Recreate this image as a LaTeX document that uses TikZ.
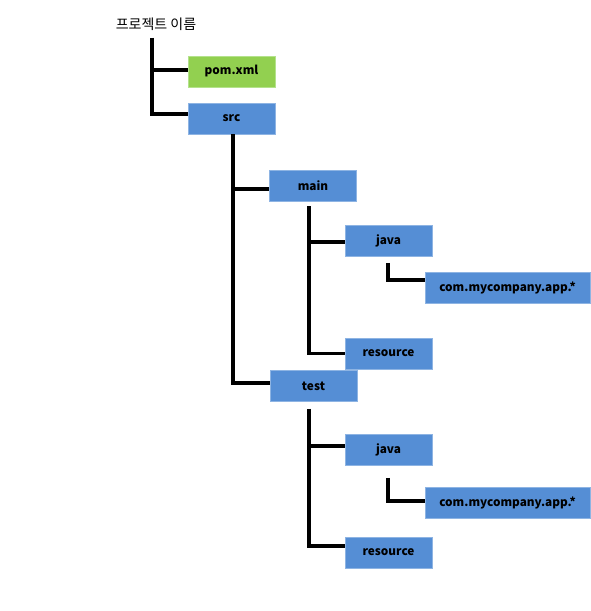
\documentclass[tikz,border=0pt]{standalone}
\usepackage{fontspec}
\setmainfont{Noto Sans CJK KR}
\definecolor{dirblue}{RGB}{85,142,213}
\definecolor{dirline}{RGB}{142,180,227}
\definecolor{filegreen}{RGB}{146,208,80}
\definecolor{fileline}{RGB}{180,226,140}
\tikzset{
  dir/.style={draw=dirline, fill=dirblue, line width=0.8pt, minimum width=87pt,
    minimum height=31pt, inner sep=0pt, font=\fontsize{11.8}{13}\selectfont\bfseries},
  file/.style={dir, draw=fileline, fill=filegreen},
  pkg/.style={dir, minimum width=165pt},
  branch/.style={line width=3.5pt}
}
\begin{document}
\begin{tikzpicture}[x=1pt,y=-1pt]
      \useasboundingbox (0,0) rectangle (590,611);
      \node (title) at (156,24) {\fontsize{14}{16}\selectfont 프로젝트 이름};
      \node[file] (pom) at (231.5,71.5) {pom.xml};
      \node[dir] (src) at (231.5,118.5) {src};
      \node[dir] (main) at (313,185.5) {main};
      \node[dir] (mainjava) at (388.5,241) {java};
      \node[pkg] (maincom) at (507.5,287.5) {com.mycompany.app.*};
      \node[dir] (mainres) at (388.5,353.5) {resource};
      \node[dir] (test) at (313.5,386) {test};
      \node[dir] (testjava) at (388.5,450) {java};
      \node[pkg] (testcom) at (507.5,503) {com.mycompany.app.*};
      \node[dir] (testres) at (388.5,552.5) {resource};
      \begin{scope}[branch]
        \draw ([xshift=-4pt,yshift=-4pt]title.south) |- ([yshift=1.5pt]pom.west);
        \draw ([xshift=-4pt,yshift=-4pt]title.south) |- ([yshift=4.5pt]src.west);
        \draw ([xshift=1.5pt]src.south) |- ([yshift=-3.5pt]main.west);
        \draw ([xshift=1.5pt]src.south) |- ([yshift=3pt]test.west);
        \draw ([xshift=-4pt,yshift=-5pt]main.south) |- ([yshift=-1pt]mainjava.west);
        \draw ([xshift=-4pt,yshift=-5pt]main.south) |- (mainres.west);
        \draw ([xshift=-0.5pt,yshift=-6pt]mainjava.south) |- ([yshift=7.5pt]maincom.west);
        \draw ([xshift=-4.5pt,yshift=-7pt]test.south) |- ([yshift=4pt]testjava.west);
        \draw ([xshift=-4.5pt,yshift=-7pt]test.south) |- ([yshift=6.5pt]testres.west);
        \draw ([xshift=-0.5pt,yshift=-12pt]testjava.south) |- ([yshift=2pt]testcom.west);
      \end{scope}
    \end{tikzpicture}
\end{document}
